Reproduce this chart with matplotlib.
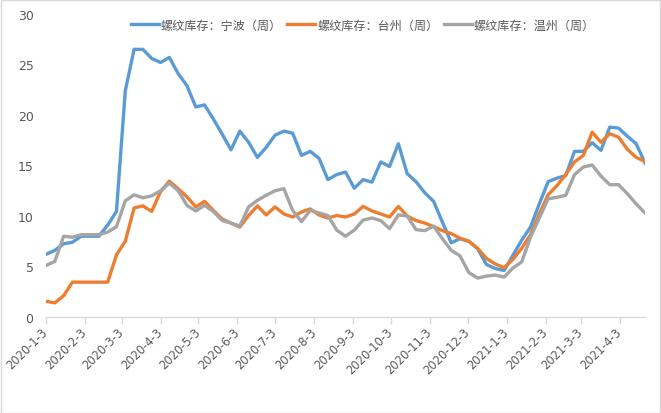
import matplotlib
matplotlib.use("Agg")
import matplotlib.pyplot as plt
import matplotlib.dates as mdates
import pandas as pd

plt.rcParams['font.family'] = ['Noto Sans CJK SC', 'DejaVu Sans']

# weekly data, Fridays from 2020-01-03
dates = pd.date_range('2020-01-03', periods=69, freq='7D')

ningbo = [6.2, 6.6, 7.25, 7.4, 8.0, 8.0, 8.0, 9.1, 10.45, 22.4,
          26.5, 26.5, 25.6, 25.2, 25.7, 24.1, 22.9, 20.8, 21.0, 19.6,
          18.1, 16.55, 18.4, 17.3, 15.8, 16.8, 18.0, 18.4, 18.2, 16.0,
          16.4, 15.7, 13.6, 14.1, 14.35, 12.75, 13.6, 13.35, 15.35, 14.9,
          17.15, 14.2, 13.4, 12.3, 11.45, 9.4, 7.35, 7.75, 7.5, 6.75,
          5.2, 4.8, 4.6, 6.1, 7.6, 8.9, 11.2, 13.4, 13.75, 14.0,
          16.4, 16.4, 17.25, 16.5, 18.8, 18.7, 17.9, 17.15, 15.25]

taizhou = [1.55, 1.4, 2.1, 3.45, 3.45, 3.45, 3.45, 3.45, 6.15, 7.5,
           10.8, 11.0, 10.45, 12.4, 13.45, 12.7, 11.9, 10.9, 11.45, 10.55,
           9.7, 9.3, 8.9, 10.05, 11.0, 10.1, 10.9, 10.2, 9.9, 10.4,
           10.7, 10.1, 9.8, 10.05, 9.9, 10.2, 10.95, 10.5, 10.2, 9.9,
           10.95, 10.0, 9.55, 9.3, 8.95, 8.55, 8.25, 7.8, 7.5, 6.8,
           5.8, 5.25, 4.88, 5.7, 6.8, 8.15, 10.2, 12.1, 13.0, 14.1,
           15.35, 16.0, 18.3, 17.3, 18.15, 17.8, 16.6, 15.8, 15.4]

wenzhou = [5.1, 5.5, 8.0, 7.9, 8.15, 8.15, 8.15, 8.4, 8.95, 11.5,
           12.1, 11.8, 12.0, 12.5, 13.25, 12.5, 11.05, 10.5, 11.05, 10.45,
           9.55, 9.3, 9.0, 10.9, 11.55, 12.05, 12.5, 12.7, 10.55, 9.45,
           10.55, 10.3, 10.05, 8.6, 8.0, 8.6, 9.6, 9.8, 9.55, 8.75,
           10.1, 10.0, 8.65, 8.55, 9.0, 7.75, 6.6, 6.05, 4.4, 3.85,
           4.05, 4.15, 3.95, 4.85, 5.45, 7.9, 9.8, 11.7, 11.85, 12.05,
           14.1, 14.85, 15.05, 13.95, 13.1, 13.1, 12.2, 11.2, 10.3]

series_names = ['螺纹库存：宁波（周）', '螺纹库存：台州（周）', '螺纹库存：温州（周）']
colors = ['#5B9BD5', '#ED7D31', '#A5A5A5']

tick_dates = pd.to_datetime(['2020-01-03', '2020-02-03', '2020-03-03', '2020-04-03',
                             '2020-05-03', '2020-06-03', '2020-07-03', '2020-08-03',
                             '2020-09-03', '2020-10-03', '2020-11-03', '2020-12-03',
                             '2021-01-03', '2021-02-03', '2021-03-03', '2021-04-03'])
tick_labels = ['2020-1-3', '2020-2-3', '2020-3-3', '2020-4-3', '2020-5-3', '2020-6-3',
               '2020-7-3', '2020-8-3', '2020-9-3', '2020-10-3', '2020-11-3', '2020-12-3',
               '2021-1-3', '2021-2-3', '2021-3-3', '2021-4-3']

fig = plt.figure(figsize=(6.61, 4.14), dpi=100)
ax = fig.add_axes([0.0696, 0.2319, 0.9062, 0.7319])

for vals, name, c in zip([ningbo, taizhou, wenzhou], series_names, colors):
    ax.plot(dates, vals, color=c, lw=2.4, label=name, solid_joinstyle='round')

ax.set_ylim(0, 30)
ax.set_yticks(range(0, 31, 5))
ax.set_xlim(dates[0], dates[-1])
ax.set_xticks(tick_dates)
ax.set_xticklabels(tick_labels, rotation=45, ha='right', va='center',
                   rotation_mode='anchor')

for side in ['top', 'right', 'left']:
    ax.spines[side].set_visible(False)
ax.spines['bottom'].set_color('#D9D9D9')
ax.spines['bottom'].set_linewidth(1)
ax.tick_params(axis='x', length=5, width=1, color='#D9D9D9', pad=4,
               labelsize=8.3, labelcolor='#595959')
ax.tick_params(axis='y', length=0, pad=9, labelsize=9, labelcolor='#595959')
for lbl in ax.get_xticklabels() + ax.get_yticklabels():
    lbl.set_family(['DejaVu Sans'])

leg = fig.legend(loc='center', bbox_to_anchor=(0.549, 0.937), ncol=3, frameon=False,
                 fontsize=8.7, handlelength=2.3, handletextpad=0.15, columnspacing=0.45)
for t in leg.get_texts():
    t.set_color('#595959')

# light frame round the whole chart
fig.patches.append(plt.Rectangle((0.001, 0.001), 0.997, 0.997, transform=fig.transFigure,
                                 fill=False, edgecolor='#D9D9D9', lw=1))

fig.savefig('out.png', dpi=100)
